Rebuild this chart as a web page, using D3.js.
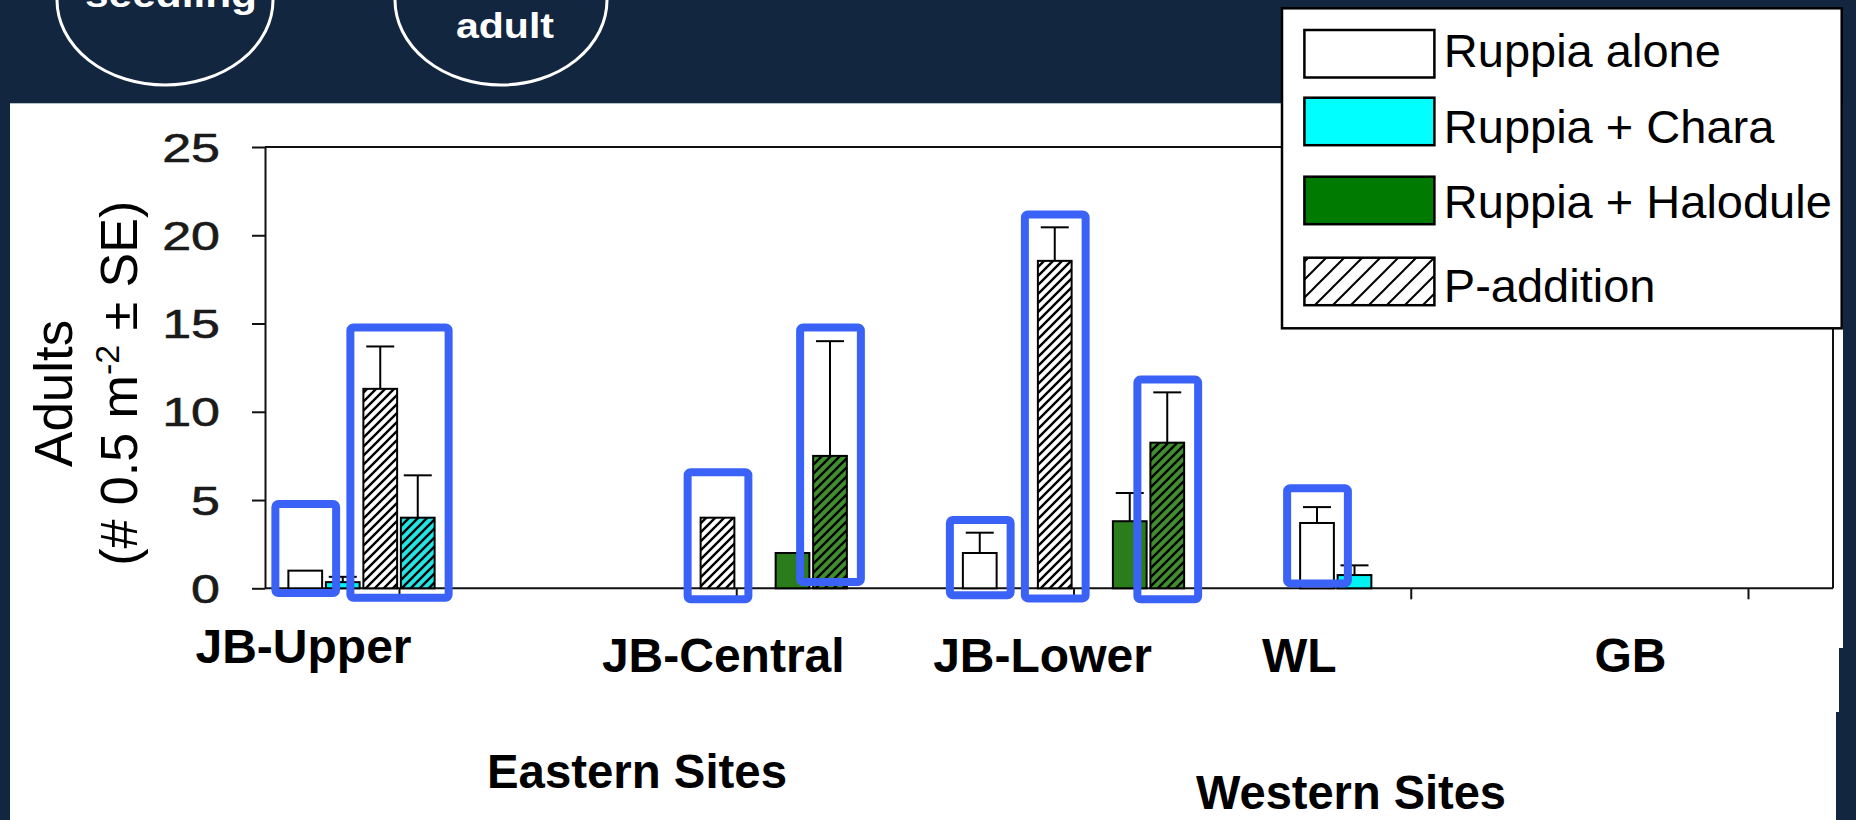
<!DOCTYPE html>
<html>
<head>
<meta charset="utf-8">
<script src="https://cdn.jsdelivr.net/npm/d3@7"></script>
<style>
  html, body { margin: 0; padding: 0; background: #13263f; overflow: hidden; }
  svg { display: block; }
</style>
</head>
<body>
<svg id="chart" width="1856" height="820"></svg>
<script>
// ---- data -------------------------------------------------------------
const sites = ["JB-Upper", "JB-Central", "JB-Lower", "WL", "GB"];

// bar order inside each site group
const barKeys = ["alone", "chara", "pAlone", "pChara", "halodule", "pHalodule"];

// adult counts (# per 0.5 m^2) and standard errors, one value per site
const aloneMean     = [1.0, 0, 2.0, 3.7, 0];
const aloneSE       = [0, 0, 1.15, 0.9, 0];
const charaMean     = [0.35, 0, 0, 0.75, 0];
const charaSE       = [0.3, 0, 0, 0.55, 0];
const pAloneMean    = [11.3, 4.0, 18.55, 0, 0];
const pAloneSE      = [2.4, 0, 1.9, 0, 0];
const pCharaMean    = [4.0, 0, 0, 0, 0];
const pCharaSE      = [2.4, 0, 0, 0, 0];
const halodMean     = [0, 2.0, 3.8, 0, 0];
const halodSE       = [0, 0, 1.6, 0, 0];
const pHalodMean    = [0, 7.5, 8.25, 0, 0];
const pHalodSE      = [0, 6.5, 2.85, 0, 0];

const yTicks = [0, 5, 10, 15, 20, 25];
const legendLabels = ["Ruppia alone", "Ruppia + Chara", "Ruppia + Halodule", "P-addition"];

// highlighted bars, with the vertical extent of each frame in axis units
const highlights = [
  { site: "JB-Upper",   bars: ["alone"],           lo: -0.49, hi: 5.0 },
  { site: "JB-Upper",   bars: ["pAlone", "pChara"], lo: -0.76, hi: 15.0 },
  { site: "JB-Central", bars: ["pAlone"],          lo: -0.85, hi: 6.8 },
  { site: "JB-Central", bars: ["pHalodule"],       lo: 0.13,  hi: 15.0 },
  { site: "JB-Lower",   bars: ["alone"],           lo: -0.62, hi: 4.1 },
  { site: "JB-Lower",   bars: ["pAlone"],          lo: -0.8,  hi: 21.4 },
  { site: "JB-Lower",   bars: ["pHalodule"],       lo: -0.85, hi: 12.05 },
  { site: "WL",         bars: ["alone"],           lo: 0.05,  hi: 5.9 }
];

const meanByKey = { alone: aloneMean, chara: charaMean, pAlone: pAloneMean,
                    pChara: pCharaMean, halodule: halodMean, pHalodule: pHalodMean };
const seByKey   = { alone: aloneSE, chara: charaSE, pAlone: pAloneSE,
                    pChara: pCharaSE, halodule: halodSE, pHalodule: pHalodSE };

// ---- layout & styles --------------------------------------------------
const NAVY = "#13263f";
const FONT = "'Liberation Sans', Arial, Helvetica, sans-serif";
const M = { left: 265, right: 1833, top: 147, bottom: 588.3 };
const labelDx = [-95.5, -13, -31, -111.5, -117.5];
const labelY  = [663, 672, 672, 672, 672];

const svg = d3.select("#chart");
const defs = svg.append("defs");

function hatch(id, bg, period, sw) {
  const p = defs.append("pattern")
    .attr("id", id).attr("patternUnits", "userSpaceOnUse")
    .attr("width", period).attr("height", period);
  p.append("rect").attr("width", period).attr("height", period).attr("fill", bg);
  p.append("path")
    .attr("d", `M0,${period}L${period},0M${-period / 2},${period / 2}L${period / 2},${-period / 2}` +
               `M${period / 2},${period * 1.5}L${period * 1.5},${period / 2}`)
    .attr("stroke", "#000").attr("stroke-width", sw);
}
hatch("hatchWhite", "#ffffff", 9, 2.4);
hatch("hatchCyan", "#22e6e6", 9, 2.4);
hatch("hatchGreen", "#3f8f2c", 9, 2.4);
hatch("hatchLegend", "#ffffff", 18, 2);

const barFill = {
  alone: "#ffffff", chara: "#00f2f2", pAlone: "url(#hatchWhite)",
  pChara: "url(#hatchCyan)", halodule: "#2b7d1c", pHalodule: "url(#hatchGreen)"
};
const legendFill = ["#ffffff", "#00ffff", "#007a00", "url(#hatchLegend)"];

// ---- background -------------------------------------------------------
svg.append("rect").attr("width", 1856).attr("height", 820).attr("fill", NAVY);
svg.append("rect").attr("x", 10).attr("y", 103.3).attr("width", 1833).attr("height", 717).attr("fill", "#fff");
svg.append("rect").attr("x", 1839).attr("y", 648).attr("width", 17).attr("height", 64).attr("fill", NAVY);
svg.append("rect").attr("x", 1836).attr("y", 712).attr("width", 20).attr("height", 108).attr("fill", NAVY);

// life-stage bubbles along the top band
const bubbles = svg.append("g");
bubbles.append("ellipse").attr("cx", 165).attr("cy", 0).attr("rx", 108).attr("ry", 85)
  .attr("fill", "none").attr("stroke", "#fff").attr("stroke-width", 3);
bubbles.append("ellipse").attr("cx", 501).attr("cy", 0).attr("rx", 106).attr("ry", 85)
  .attr("fill", "none").attr("stroke", "#fff").attr("stroke-width", 3);
bubbles.append("text").attr("x", 171).attr("y", 7).attr("text-anchor", "middle")
  .attr("font-family", FONT).attr("font-weight", "bold").attr("font-size", 36)
  .attr("fill", "#fff").attr("textLength", 172).attr("lengthAdjust", "spacingAndGlyphs")
  .text("seedling");
bubbles.append("text").attr("x", 505).attr("y", 38.3).attr("text-anchor", "middle")
  .attr("font-family", FONT).attr("font-weight", "bold").attr("font-size", 35)
  .attr("fill", "#fff").attr("textLength", 98).attr("lengthAdjust", "spacingAndGlyphs")
  .text("adult");

// ---- scales -----------------------------------------------------------
const y = d3.scaleLinear().domain([0, 25]).range([M.bottom, M.top]);
const x = d3.scalePoint().domain(sites).range([M.left + 134, M.right - 85]);
const sub = d3.scaleBand().domain(barKeys).range([-110.625, 110.625]).paddingInner(0.1);

// ---- frame & axes -----------------------------------------------------
const frame = svg.append("g").attr("stroke", "#111").attr("stroke-width", 2).attr("fill", "none");
frame.append("line").attr("x1", M.left).attr("x2", M.right).attr("y1", M.top).attr("y2", M.top);
frame.append("line").attr("x1", M.right).attr("x2", M.right).attr("y1", M.top).attr("y2", M.bottom);
frame.append("line").attr("x1", M.left).attr("x2", M.right).attr("y1", M.bottom).attr("y2", M.bottom);

const yAxis = svg.append("g").attr("transform", `translate(${M.left},0)`)
  .call(d3.axisLeft(y).tickValues(yTicks).tickSize(13).tickSizeOuter(0).tickPadding(0));
yAxis.selectAll("path, line").attr("stroke", "#111").attr("stroke-width", 2);
yAxis.selectAll("text")
  .attr("x", 0).attr("dy", "0.35em")
  .attr("transform", "translate(-45,0) scale(1.3,1)")
  .attr("font-family", FONT).attr("font-size", 40).attr("fill", "#1a1a1a")
  .attr("stroke", "#1a1a1a").attr("stroke-width", 0.6);

const xAxis = svg.append("g").attr("transform", `translate(0,${M.bottom})`)
  .call(d3.axisBottom(x).tickSize(11).tickSizeOuter(0).tickFormat(""));
xAxis.select(".domain").remove();
xAxis.selectAll("line").attr("stroke", "#111").attr("stroke-width", 2);

// site labels
svg.append("g").selectAll("text").data(sites).join("text")
  .attr("x", (d, i) => x(d) + labelDx[i]).attr("y", (d, i) => labelY[i])
  .attr("text-anchor", "middle").attr("font-family", FONT).attr("font-weight", "bold")
  .attr("font-size", 48).attr("fill", "#000").text(d => d);

svg.append("text").attr("x", 637).attr("y", 788).attr("text-anchor", "middle")
  .attr("font-family", FONT).attr("font-weight", "bold").attr("font-size", 48)
  .attr("textLength", 300).attr("lengthAdjust", "spacingAndGlyphs").text("Eastern Sites");
svg.append("text").attr("x", 1351).attr("y", 809).attr("text-anchor", "middle")
  .attr("font-family", FONT).attr("font-weight", "bold").attr("font-size", 48)
  .attr("textLength", 310).attr("lengthAdjust", "spacingAndGlyphs").text("Western Sites");

// y-axis title
svg.append("text").attr("transform", "translate(71.7,393.3) rotate(-90)")
  .attr("text-anchor", "middle").attr("font-family", FONT).attr("font-size", 53)
  .attr("fill", "#000").text("Adults");
const yt2 = svg.append("text").attr("transform", "translate(136.7,383.3) rotate(-90)")
  .attr("text-anchor", "middle").attr("font-family", FONT).attr("font-size", 52).attr("fill", "#000");
yt2.append("tspan").text("(# 0.5 m");
yt2.append("tspan").attr("dy", -18).attr("font-size", 34).text("-2");
yt2.append("tspan").attr("dy", 18).text(" \u00b1 SE)");

// ---- bars -------------------------------------------------------------
const bars = [];
sites.forEach((s, i) => barKeys.forEach(k => {
  bars.push({ site: s, key: k, v: meanByKey[k][i], se: seByKey[k][i] });
}));
const drawn = bars.filter(d => d.v > 0);

svg.append("g").selectAll("rect").data(drawn).join("rect")
  .attr("x", d => x(d.site) + sub(d.key))
  .attr("y", d => y(d.v))
  .attr("width", sub.bandwidth())
  .attr("height", d => y(0) - y(d.v))
  .attr("fill", d => barFill[d.key])
  .attr("stroke", "#000").attr("stroke-width", 2);

const eb = svg.append("g").attr("stroke", "#000").attr("stroke-width", 2);
drawn.filter(d => d.se > 0).forEach(d => {
  const cx = x(d.site) + sub(d.key) + sub.bandwidth() / 2;
  eb.append("line").attr("x1", cx).attr("x2", cx).attr("y1", y(d.v)).attr("y2", y(d.v + d.se));
  eb.append("line").attr("x1", cx - 14).attr("x2", cx + 14).attr("y1", y(d.v + d.se)).attr("y2", y(d.v + d.se));
});

// ---- highlight frames -------------------------------------------------
const HSW = 8, padL = 17, padR = 18;
svg.append("g").selectAll("rect").data(highlights).join("rect")
  .attr("x", d => x(d.site) + sub(d.bars[0]) - padL + HSW / 2)
  .attr("y", d => y(d.hi) + HSW / 2)
  .attr("width", d => sub(d.bars[d.bars.length - 1]) + sub.bandwidth() - sub(d.bars[0]) + padL + padR - HSW)
  .attr("height", d => y(d.lo) - y(d.hi) - HSW)
  .attr("rx", 3)
  .attr("fill", "none").attr("stroke", "#3a62f7").attr("stroke-width", HSW);

// ---- legend -----------------------------------------------------------
const lg = svg.append("g");
lg.append("rect").attr("x", 1282).attr("y", 8.3).attr("width", 559.7).attr("height", 320)
  .attr("fill", "#fff").attr("stroke", "#000").attr("stroke-width", 2.5);
const swY = [30, 97.7, 176.7, 257.7];
const txY = [66.7, 143.3, 218.3, 301.7];
lg.selectAll("rect.sw").data(legendLabels).join("rect").attr("class", "sw")
  .attr("x", 1304.4).attr("y", (d, i) => swY[i]).attr("width", 130).attr("height", 47.5)
  .attr("fill", (d, i) => legendFill[i]).attr("stroke", "#000").attr("stroke-width", 2.5);
lg.selectAll("text").data(legendLabels).join("text")
  .attr("x", 1443.8).attr("y", (d, i) => txY[i])
  .attr("font-family", FONT).attr("font-size", 47).attr("fill", "#000").text(d => d);
</script>
</body>
</html>
